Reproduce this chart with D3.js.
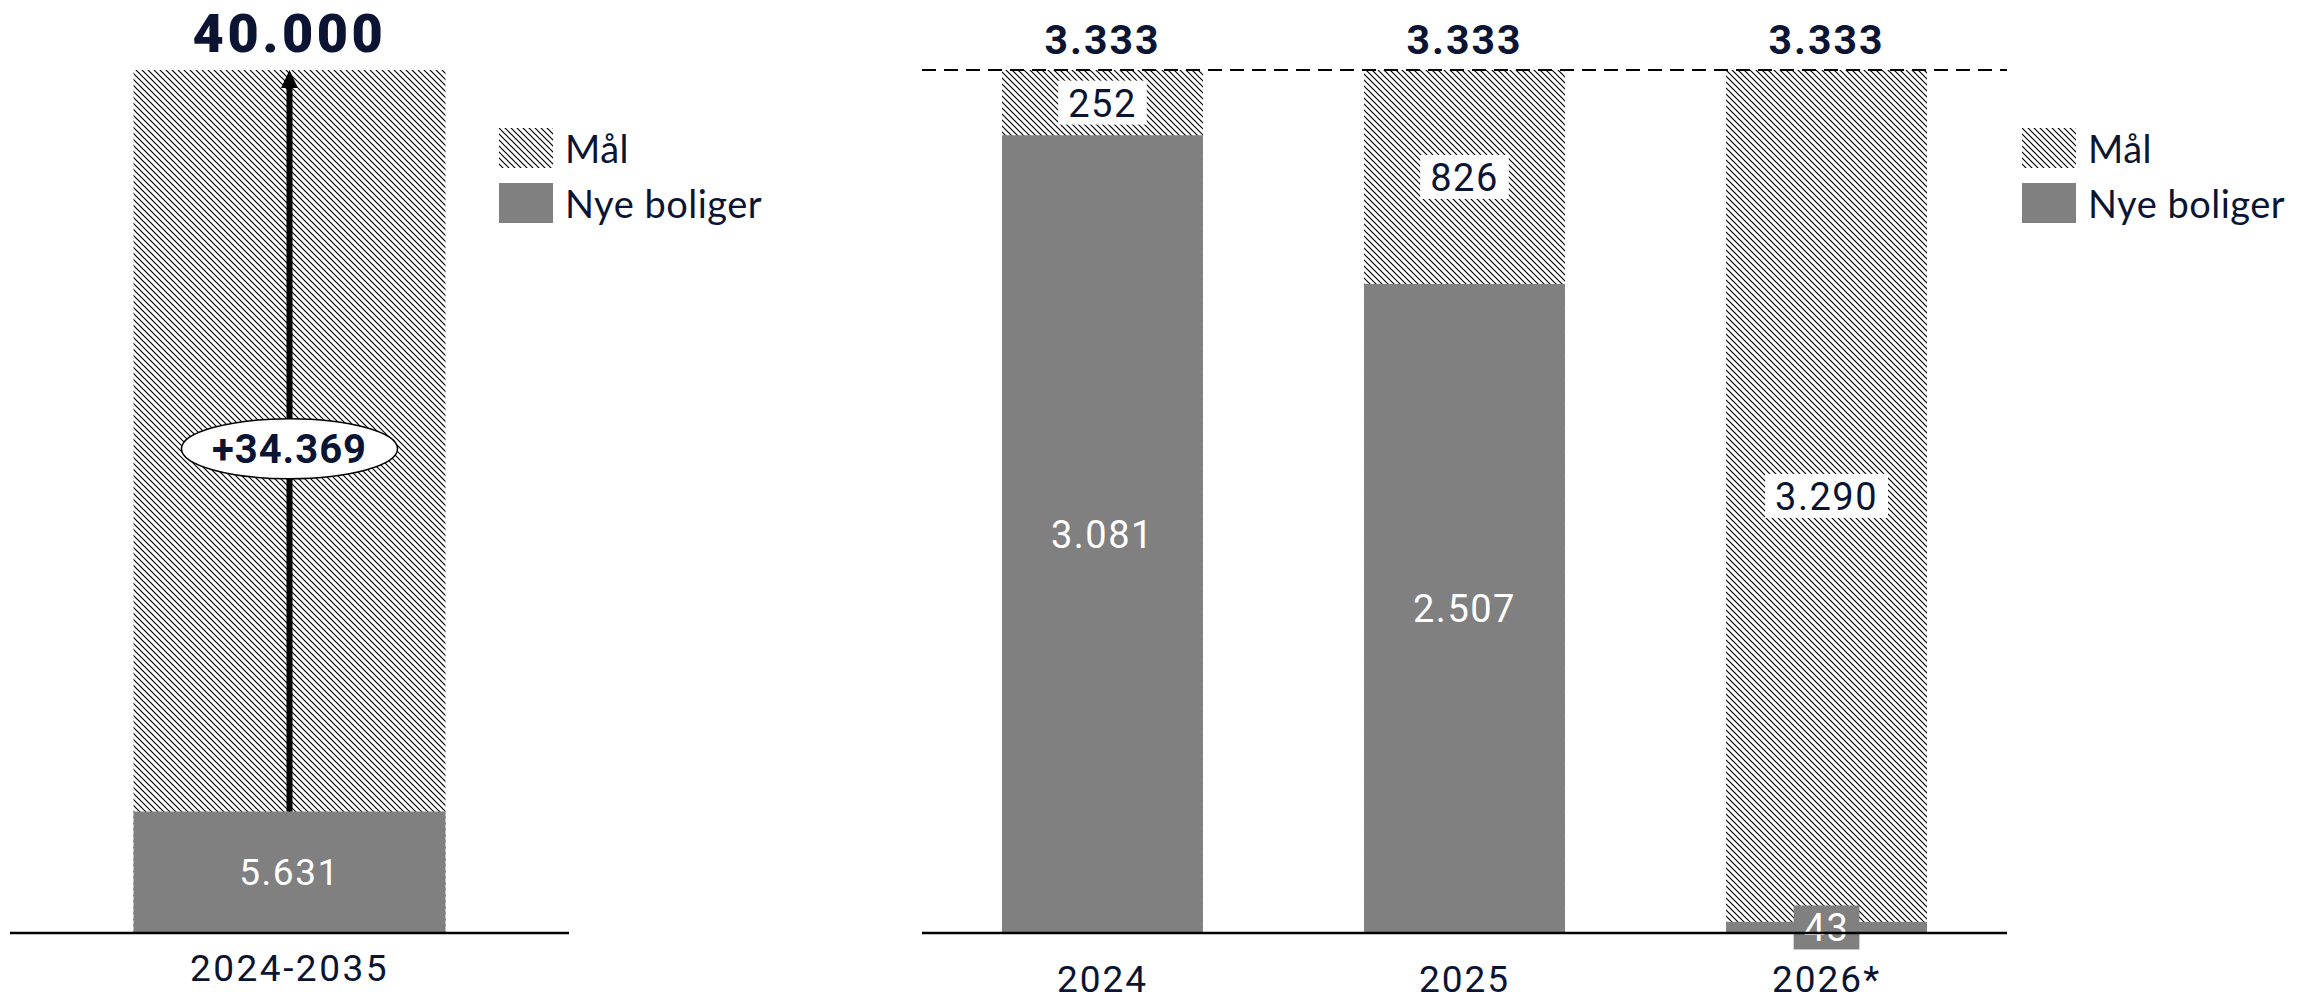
<!DOCTYPE html>
<html>
<head>
<meta charset="utf-8">
<script src="https://cdn.jsdelivr.net/npm/d3@7"></script>
<style>
  body { margin: 0; background: #fff; }
  svg { display: block; }
</style>
</head>
<body>
<div id="chart-area"></div>
<script>
// total target vs. built so far
const totalCategory = ["2024-2035"];
const totalTarget = [40000];
const totalBuilt = [5631];

// yearly target vs. built
const years = ["2024", "2025", "2026*"];
const yearTarget = [3333, 3333, 3333];
const yearBuilt = [3081, 2507, 43];

const legendLabels = ["Mål", "Nye boliger"];

const W = 2306, H = 1003;
const navy = "#0b1533";
const grey = "#808080";
const fmt = (v) => d3.format(",")(v).replace(/,/g, ".");
const numFont = "Roboto, 'DejaVu Sans', sans-serif";
const textFont = "Lato, 'Open Sans', sans-serif";

const svg = d3.select("#chart-area").append("svg")
    .attr("width", W)
    .attr("height", H);

// hatch pattern
const defs = svg.append("defs");
defs.append("pattern")
    .attr("id", "hatch")
    .attr("patternUnits", "userSpaceOnUse")
    .attr("width", 6)
    .attr("height", 6)
    .append("path")
    .attr("d", "M0,0 L6,6 M-1,5 L1,7 M5,-1 L7,1")
    .attr("stroke", "#000")
    .attr("stroke-width", 1.2);

const baseY = 933, topY = 70;

// ---------- left panel ----------
const xL = d3.scaleBand()
    .domain(totalCategory)
    .range([10, 569])
    .paddingInner(0)
    .paddingOuter(0.396);

const yL = d3.scaleLinear()
    .domain([0, totalTarget[0]])
    .range([baseY, topY]);

const left = svg.append("g");

left.selectAll("rect.goal")
    .data(totalCategory)
    .enter().append("rect")
    .attr("class", "goal")
    .attr("x", (d) => xL(d))
    .attr("width", xL.bandwidth())
    .attr("y", (d, i) => yL(totalTarget[i]))
    .attr("height", (d, i) => yL(0) - yL(totalTarget[i]))
    .attr("fill", "url(#hatch)");

left.selectAll("rect.built")
    .data(totalCategory)
    .enter().append("rect")
    .attr("class", "built")
    .attr("x", (d) => xL(d))
    .attr("width", xL.bandwidth())
    .attr("y", (d, i) => yL(totalBuilt[i]))
    .attr("height", (d, i) => yL(0) - yL(totalBuilt[i]))
    .attr("fill", grey);

totalCategory.forEach((c, i) => {
    const cx = xL(c) + xL.bandwidth() / 2;
    const yTop = yL(totalTarget[i]);
    const yBuilt = yL(totalBuilt[i]);

    // arrow
    left.append("line")
        .attr("x1", cx).attr("x2", cx)
        .attr("y1", yBuilt).attr("y2", yTop + 16)
        .attr("stroke", "#000")
        .attr("stroke-width", 6);
    left.append("path")
        .attr("d", `M${cx},${yTop} L${cx - 8.5},${yTop + 18} L${cx + 8.5},${yTop + 18} Z`)
        .attr("fill", "#000");

    // difference bubble
    const my = (yTop + yBuilt) / 2 + 8;
    left.append("ellipse")
        .attr("cx", cx).attr("cy", my)
        .attr("rx", 108).attr("ry", 30)
        .attr("fill", "#fff")
        .attr("stroke", "#000")
        .attr("stroke-width", 1.5);
    left.append("text")
        .attr("x", cx).attr("y", my + 14)
        .attr("text-anchor", "middle")
        .style("font-family", numFont)
        .style("font-weight", 700)
        .style("font-size", "40px")
        .style("letter-spacing", "1px")
        .attr("fill", navy)
        .text("+" + fmt(totalTarget[i] - totalBuilt[i]));

    // built label
    left.append("text")
        .attr("x", cx).attr("y", (yBuilt + baseY) / 2 + 13)
        .attr("text-anchor", "middle")
        .style("font-family", numFont)
        .style("font-size", "37px")
        .style("letter-spacing", "1.5px")
        .attr("fill", "#fff")
        .text(fmt(totalBuilt[i]));

    // target on top
    left.append("text")
        .attr("x", cx).attr("y", 52)
        .attr("text-anchor", "middle")
        .style("font-family", numFont)
        .style("font-weight", 900)
        .style("font-size", "54px")
        .style("letter-spacing", "3.5px")
        .attr("fill", navy)
        .text(fmt(totalTarget[i]));

    // category
    left.append("text")
        .attr("x", cx).attr("y", 981)
        .attr("text-anchor", "middle")
        .style("font-family", numFont)
        .style("font-size", "37px")
        .style("letter-spacing", "2.5px")
        .attr("fill", navy)
        .text(c);
});

left.append("line")
    .attr("x1", 10).attr("x2", 569)
    .attr("y1", baseY).attr("y2", baseY)
    .attr("stroke", "#000")
    .attr("stroke-width", 2.5);

// ---------- right panel ----------
const xR = d3.scaleBand()
    .domain(years)
    .range([922, 2007])
    .paddingInner(0.445)
    .paddingOuter(0.221);

const yR = d3.scaleLinear()
    .domain([0, d3.max(yearTarget)])
    .range([baseY, topY]);

const right = svg.append("g");

right.selectAll("rect.goal")
    .data(years)
    .enter().append("rect")
    .attr("class", "goal")
    .attr("x", (d) => xR(d))
    .attr("width", xR.bandwidth())
    .attr("y", (d, i) => yR(yearTarget[i]))
    .attr("height", (d, i) => yR(0) - yR(yearTarget[i]))
    .attr("fill", "url(#hatch)");

right.selectAll("rect.built")
    .data(years)
    .enter().append("rect")
    .attr("class", "built")
    .attr("x", (d) => xR(d))
    .attr("width", xR.bandwidth())
    .attr("y", (d, i) => yR(yearBuilt[i]))
    .attr("height", (d, i) => yR(0) - yR(yearBuilt[i]))
    .attr("fill", grey);

// segment label with a box behind it
function boxLabel(g, cx, cy, txt, boxFill, txtFill) {
    const lg = g.append("g");
    const box = lg.append("rect").attr("fill", boxFill);
    const t = lg.append("text")
        .attr("x", cx).attr("y", cy + 14)
        .attr("text-anchor", "middle")
        .style("font-family", numFont)
        .style("font-size", "38px")
        .style("letter-spacing", "1.5px")
        .attr("fill", txtFill)
        .text(txt);
    const w = t.node().getComputedTextLength();
    box.attr("x", cx - w / 2 - 10).attr("width", w + 20)
        .attr("y", cy - 22).attr("height", 44);
}

years.forEach((yr, i) => {
    const cx = xR(yr) + xR.bandwidth() / 2;
    const yTop = yR(yearTarget[i]);
    const yBuilt = yR(yearBuilt[i]);

    right.append("text")
        .attr("x", cx).attr("y", 54)
        .attr("text-anchor", "middle")
        .style("font-family", numFont)
        .style("font-weight", 700)
        .style("font-size", "41px")
        .style("letter-spacing", "2px")
        .attr("fill", navy)
        .text(fmt(yearTarget[i]));

    boxLabel(right, cx, (yTop + yBuilt) / 2, fmt(yearTarget[i] - yearBuilt[i]), "#fff", navy);
    boxLabel(right, cx, (yBuilt + baseY) / 2, fmt(yearBuilt[i]), grey, "#fff");

    right.append("text")
        .attr("x", cx).attr("y", 992)
        .attr("text-anchor", "middle")
        .style("font-family", numFont)
        .style("font-size", "37px")
        .style("letter-spacing", "2px")
        .attr("fill", navy)
        .text(yr);
});

right.append("line")
    .attr("x1", 922).attr("x2", 2007)
    .attr("y1", yR(d3.max(yearTarget))).attr("y2", yR(d3.max(yearTarget)))
    .attr("stroke", "#000")
    .attr("stroke-width", 2)
    .attr("stroke-dasharray", "14,8");

right.append("line")
    .attr("x1", 922).attr("x2", 2007)
    .attr("y1", baseY).attr("y2", baseY)
    .attr("stroke", "#000")
    .attr("stroke-width", 2.5);

// ---------- legends ----------
function legend(x0) {
    const lg = svg.append("g").attr("transform", `translate(${x0},128)`);
    const items = lg.selectAll("g")
        .data(legendLabels)
        .enter().append("g")
        .attr("transform", (d, i) => `translate(0,${i * 55})`);
    items.append("rect")
        .attr("width", 54).attr("height", 40)
        .attr("fill", (d, i) => i === 0 ? "url(#hatch)" : grey);
    items.append("text")
        .attr("x", 66).attr("y", 35)
        .style("font-family", textFont)
        .style("font-size", "38px")
        .style("letter-spacing", "0.5px")
        .attr("fill", navy)
        .text((d) => d);
}
legend(499);
legend(2022);
</script>
</body>
</html>
